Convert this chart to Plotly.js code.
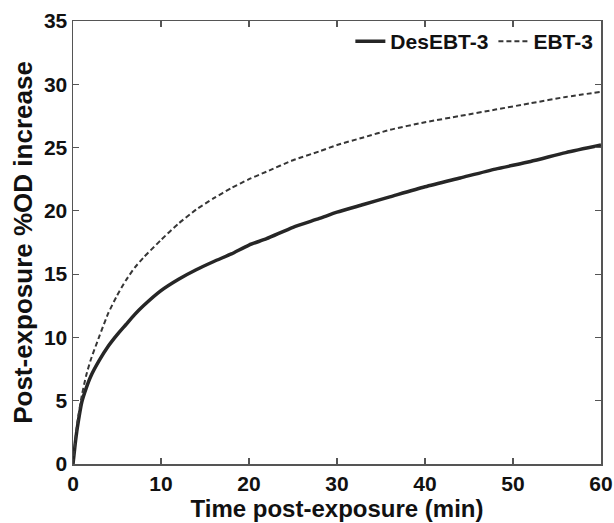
<!DOCTYPE html>
<html>
<head>
<meta charset="utf-8">
<script src="https://cdn.plot.ly/plotly-3.0.1.min.js"></script>
<style>
html,body{margin:0;padding:0;background:#fff;}
#chart{width:614px;height:523px;}
</style>
</head>
<body>
<div id="chart"></div>
<script>
// Time post-exposure (min)
const timeMin = [0, 0.25, 0.5, 1, 1.5, 2, 3, 4, 5, 6, 7, 8, 10, 12, 14, 16, 18, 20, 22, 25, 28, 30, 33, 36, 40, 44, 48, 52, 56, 60];
// Post-exposure %OD increase
const desEBT3 = [0, 1.6, 2.9, 4.9, 6.0, 6.9, 8.2, 9.3, 10.2, 11.0, 11.8, 12.5, 13.7, 14.6, 15.35, 16.0, 16.6, 17.3, 17.8, 18.7, 19.4, 19.9, 20.5, 21.1, 21.9, 22.6, 23.3, 23.9, 24.6, 25.2];
const ebt3 = [0, 1.8, 3.3, 5.4, 7.0, 8.2, 10.1, 11.9, 13.3, 14.5, 15.5, 16.3, 17.7, 19.0, 20.1, 21.0, 21.8, 22.5, 23.1, 24.0, 24.7, 25.2, 25.8, 26.4, 27.0, 27.5, 28.0, 28.5, 29.0, 29.4];
const xTicks = [0, 10, 20, 30, 40, 50, 60];
const yTicks = [0, 5, 10, 15, 20, 25, 30, 35];

const font = {family: 'Arial', color: '#111'};

const traces = [
  {x: timeMin, y: desEBT3, name: 'DesEBT-3', type: 'scatter', mode: 'lines',
   line: {color: '#262626', width: 3.5, shape: 'spline', smoothing: 0.6}},
  {x: timeMin, y: ebt3, name: 'EBT-3', type: 'scatter', mode: 'lines',
   line: {color: '#363636', width: 2, dash: '5px,3px', shape: 'spline', smoothing: 0.6}}
];

const axisCommon = {
  showgrid: false, zeroline: false, showline: true, mirror: 'ticks',
  linecolor: '#555', linewidth: 1.5, ticks: 'inside', ticklen: 6, tickwidth: 1.2,
  tickcolor: '#555', tickfont: Object.assign({size: 21, weight: 'bold'}, font)
};

const layout = {
  width: 614, height: 523,
  margin: {l: 73, r: 13, t: 21, b: 59},
  paper_bgcolor: '#fff', plot_bgcolor: '#fff',
  showlegend: true,
  legend: {orientation: 'h', x: 0.995, xanchor: 'right', y: 1.0, yanchor: 'top',
    bgcolor: 'rgba(0,0,0,0)', borderwidth: 0,
    font: Object.assign({size: 21, weight: 'bold'}, font),
    itemwidth: 30, tracegroupgap: 0},
  xaxis: Object.assign({}, axisCommon, {range: [0, 60], tickvals: xTicks,
    title: {text: 'Time post-exposure (min)', standoff: 0, font: Object.assign({size: 24, weight: 'bold'}, font)}}),
  yaxis: Object.assign({}, axisCommon, {range: [0, 35], tickvals: yTicks,
    title: {text: 'Post-exposure %OD increase', standoff: 4, font: Object.assign({size: 26, weight: 'bold'}, font)}})
};

Plotly.newPlot('chart', traces, layout, {displayModeBar: false, staticPlot: true});
</script>
</body>
</html>
